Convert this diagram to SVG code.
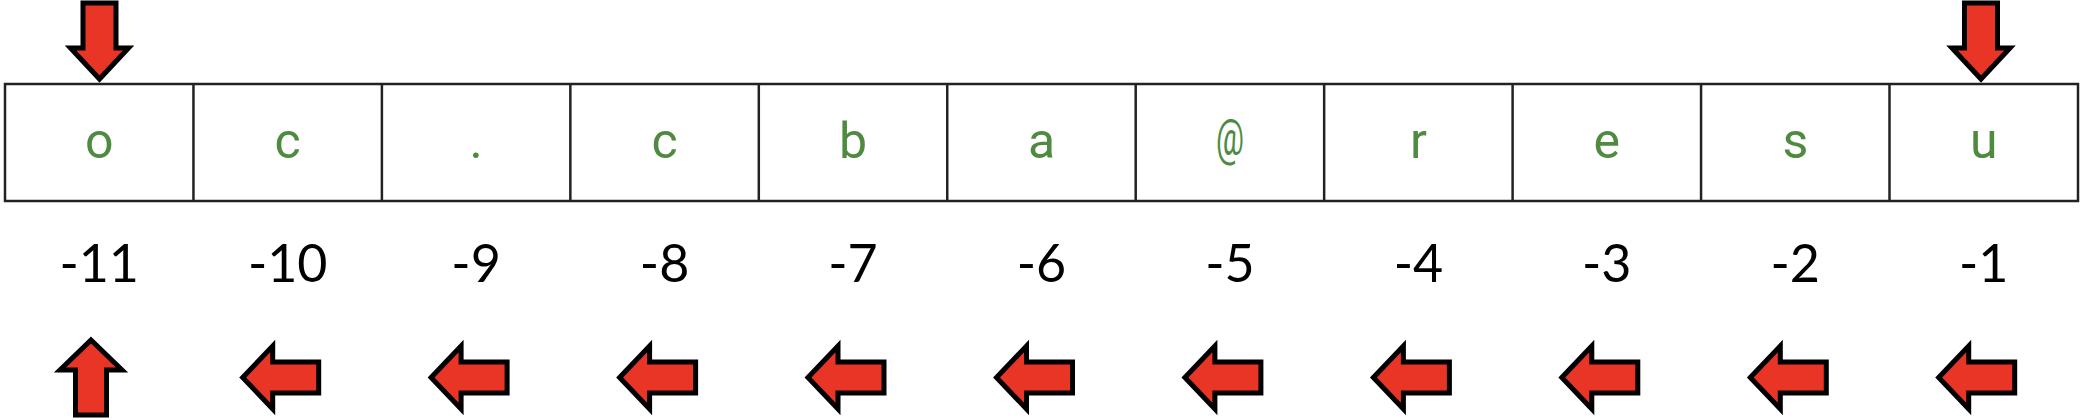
<svg xmlns="http://www.w3.org/2000/svg" xmlns:xlink="http://www.w3.org/1999/xlink" width="2086" height="420" viewBox="0 0 2086 420">
<style>
.cell{fill:#fff;stroke:#222;stroke-width:2.5}
.sep{stroke:#222;stroke-width:2.5}
.ch{font-family:Roboto,"Liberation Sans",sans-serif;font-size:50px;fill:#4e8b41;text-anchor:middle}
.num{font-family:Lato,"Liberation Sans",sans-serif;font-size:52px;fill:#000;text-anchor:middle}
.arr{fill:#e93526;stroke:#000;stroke-width:5;stroke-linejoin:miter}
</style>
<defs>
<path id="left" d="M-45,377.5 L-15,346 L-15,362 L31,362 L31,393 L-15,393 L-15,409 Z"/>
<path id="down" d="M-16.5,3 L16.5,3 L16.5,48 L29,48 L0,79 L-29,48 L-16.5,48 Z"/>
<path id="up" d="M0,340 L31,370 L15.5,370 L15.5,415 L-15.5,415 L-15.5,370 L-31,370 Z"/>
</defs>
<g id="table">
<rect class="cell" x="5" y="84" width="2073" height="117"/>
<line class="sep" x1="193.45" y1="84" x2="193.45" y2="201"/>
<line class="sep" x1="381.9" y1="84" x2="381.9" y2="201"/>
<line class="sep" x1="570.35" y1="84" x2="570.35" y2="201"/>
<line class="sep" x1="758.8" y1="84" x2="758.8" y2="201"/>
<line class="sep" x1="947.25" y1="84" x2="947.25" y2="201"/>
<line class="sep" x1="1135.7" y1="84" x2="1135.7" y2="201"/>
<line class="sep" x1="1324.15" y1="84" x2="1324.15" y2="201"/>
<line class="sep" x1="1512.6" y1="84" x2="1512.6" y2="201"/>
<line class="sep" x1="1701.05" y1="84" x2="1701.05" y2="201"/>
<line class="sep" x1="1889.5" y1="84" x2="1889.5" y2="201"/>
</g>
<g id="cell-0"><text class="ch" x="99.2" y="157.5">o</text><text class="num" x="99.2" y="282">-11</text></g>
<g id="cell-1"><text class="ch" x="287.7" y="157.5">c</text><text class="num" x="287.7" y="282">-10</text></g>
<g id="cell-2"><text class="ch" x="476.1" y="157.5">.</text><text class="num" x="476.1" y="282">-9</text></g>
<g id="cell-3"><text class="ch" x="664.6" y="157.5">c</text><text class="num" x="664.6" y="282">-8</text></g>
<g id="cell-4"><text class="ch" x="853" y="157.5">b</text><text class="num" x="853" y="282">-7</text></g>
<g id="cell-5"><text class="ch" x="1041.5" y="157.5">a</text><text class="num" x="1041.5" y="282">-6</text></g>
<g id="cell-6"><text class="ch" x="1229.9" y="155" textLength="28" lengthAdjust="spacingAndGlyphs">@</text><text class="num" x="1229.9" y="282">-5</text></g>
<g id="cell-7"><text class="ch" x="1418.4" y="157.5">r</text><text class="num" x="1418.4" y="282">-4</text></g>
<g id="cell-8"><text class="ch" x="1606.8" y="157.5">e</text><text class="num" x="1606.8" y="282">-3</text></g>
<g id="cell-9"><text class="ch" x="1795.3" y="157.5">s</text><text class="num" x="1795.3" y="282">-2</text></g>
<g id="cell-10"><text class="ch" x="1983.7" y="157.5">u</text><text class="num" x="1983.7" y="282">-1</text></g>
<g id="arrows">
<use class="arr" href="#down" xlink:href="#down" transform="translate(99.5,0)"/>
<use class="arr" href="#down" xlink:href="#down" transform="translate(1981,0)"/>
<use class="arr" href="#up" xlink:href="#up" transform="translate(91,0)"/>
<use class="arr" href="#left" xlink:href="#left" transform="translate(287.7,0)"/>
<use class="arr" href="#left" xlink:href="#left" transform="translate(476.1,0)"/>
<use class="arr" href="#left" xlink:href="#left" transform="translate(664.6,0)"/>
<use class="arr" href="#left" xlink:href="#left" transform="translate(853,0)"/>
<use class="arr" href="#left" xlink:href="#left" transform="translate(1041.5,0)"/>
<use class="arr" href="#left" xlink:href="#left" transform="translate(1229.9,0)"/>
<use class="arr" href="#left" xlink:href="#left" transform="translate(1418.4,0)"/>
<use class="arr" href="#left" xlink:href="#left" transform="translate(1606.8,0)"/>
<use class="arr" href="#left" xlink:href="#left" transform="translate(1795.3,0)"/>
<use class="arr" href="#left" xlink:href="#left" transform="translate(1983.7,0)"/>
</g>
</svg>
